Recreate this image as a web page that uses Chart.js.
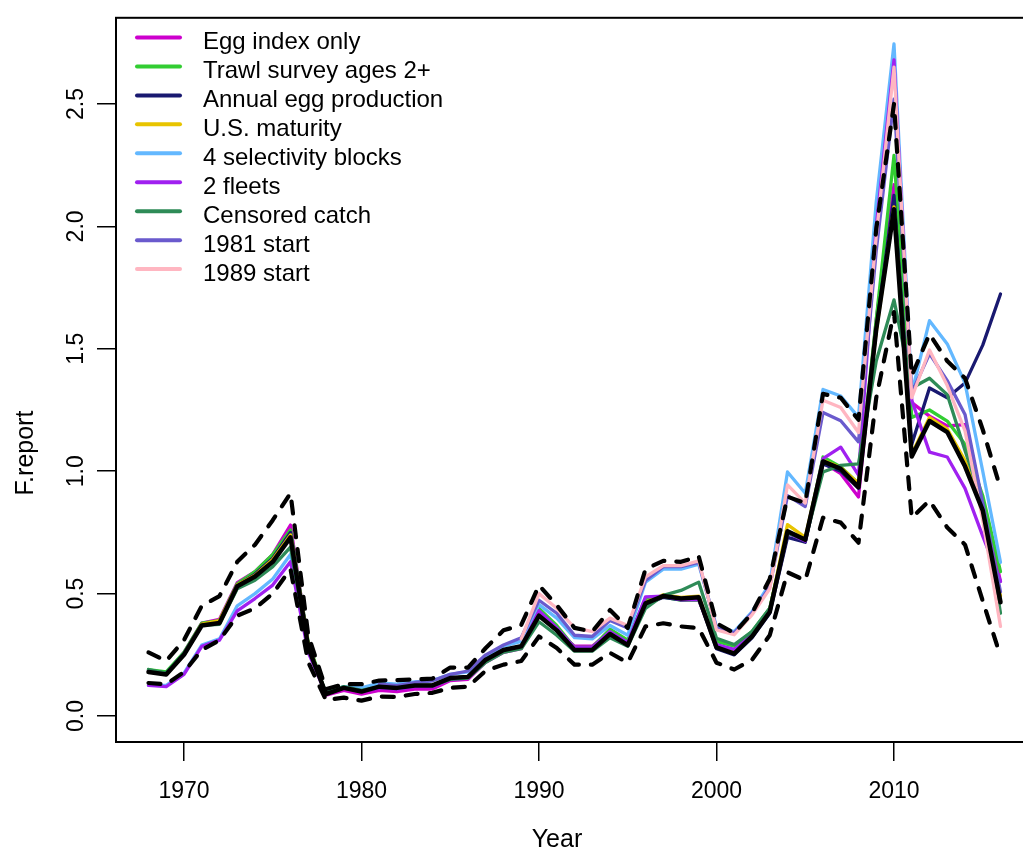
<!DOCTYPE html>
<html>
<head>
<meta charset="utf-8">
<script src="https://cdn.jsdelivr.net/npm/chart.js@4.4.1/dist/chart.umd.min.js"></script>
<style>
  html, body { margin:0; padding:0; background:#fff; overflow:hidden; }
  #clip { width:1023px; height:856px; overflow:hidden; position:relative; }
  #wrap { width:1040px; height:856px; position:absolute; left:0; top:0; }
</style>
</head>
<body>
<div id="clip"><div id="wrap"><canvas id="fChart"></canvas></div></div>
<script>
/* ═══ F.report sensitivity runs ═══ */
var years = [];
for (var yr = 1968; yr <= 2016; yr++) years.push(yr);

var xTicks = [1970, 1980, 1990, 2000, 2010];
var yTicks = [0, 0.5, 1, 1.5, 2, 2.5];
var yTickLabels = ['0.0', '0.5', '1.0', '1.5', '2.0', '2.5'];

var runNames = ['Egg index only', 'Trawl survey ages 2+', 'Annual egg production', 'U.S. maturity',
                '4 selectivity blocks', '2 fleets', 'Censored catch', '1981 start', '1989 start'];
var runColors = ['#CD00CD', '#32CD32', '#191970', '#E8C400', '#63B8FF', '#A020F0', '#2E8B57', '#6A5ACD', '#FFB6C1'];

// base model and its interval
var baseF  = [0.18,0.17,0.25,0.37,0.38,0.53,0.57,0.63,0.73,0.28,0.09,0.115,0.10,0.12,0.115,0.125,0.125,0.155,0.16,0.23,0.27,0.285,0.41,0.35,0.27,0.27,0.335,0.29,0.46,0.49,0.48,0.485,0.28,0.255,0.325,0.425,0.755,0.72,1.04,1.01,0.935,1.58,2.07,1.06,1.205,1.16,1.02,0.84,0.465];
var upperF = [0.26,0.225,0.31,0.45,0.49,0.63,0.70,0.80,0.91,0.33,0.11,0.13,0.13,0.145,0.147,0.15,0.153,0.198,0.198,0.278,0.35,0.372,0.534,0.453,0.36,0.345,0.433,0.36,0.60,0.634,0.63,0.652,0.379,0.339,0.42,0.56,0.896,0.87,1.316,1.30,1.21,1.99,2.50,1.39,1.56,1.45,1.38,1.17,0.93];
var lowerF = [0.135,0.13,0.18,0.27,0.31,0.41,0.44,0.50,0.60,0.22,0.065,0.075,0.063,0.08,0.078,0.09,0.095,0.115,0.12,0.185,0.21,0.225,0.325,0.278,0.21,0.21,0.258,0.218,0.366,0.379,0.366,0.359,0.218,0.19,0.23,0.33,0.587,0.554,0.81,0.79,0.708,1.30,1.65,0.81,0.88,0.77,0.70,0.47,0.245];

// sensitivity runs
var eggF      = [0.185,0.175,0.26,0.38,0.395,0.545,0.59,0.66,0.78,0.29,0.085,0.105,0.09,0.105,0.10,0.11,0.11,0.145,0.15,0.22,0.26,0.275,0.42,0.35,0.285,0.285,0.345,0.30,0.47,0.49,0.475,0.475,0.285,0.26,0.33,0.43,0.75,0.715,1.035,0.99,0.895,1.62,2.17,1.28,1.225,1.185,1.19,0.87,0.55];
var trawlF    = [0.19,0.18,0.26,0.38,0.39,0.54,0.59,0.66,0.76,0.30,0.09,0.115,0.10,0.12,0.115,0.125,0.125,0.155,0.16,0.225,0.27,0.285,0.44,0.37,0.28,0.28,0.355,0.31,0.48,0.486,0.473,0.473,0.305,0.285,0.345,0.44,0.755,0.72,1.058,1.017,0.95,1.62,2.29,1.22,1.25,1.205,1.11,0.90,0.59];
var annualF   = [0.185,0.175,0.255,0.375,0.385,0.535,0.58,0.645,0.75,0.29,0.09,0.115,0.10,0.12,0.115,0.125,0.125,0.155,0.16,0.23,0.27,0.285,0.41,0.35,0.27,0.27,0.335,0.29,0.455,0.485,0.475,0.48,0.275,0.25,0.32,0.42,0.73,0.71,1.03,1.00,0.93,1.58,2.127,1.11,1.34,1.30,1.36,1.515,1.724];
var usMatF    = [0.18,0.17,0.25,0.375,0.39,0.535,0.575,0.64,0.74,0.29,0.09,0.115,0.10,0.12,0.115,0.125,0.125,0.155,0.16,0.23,0.27,0.285,0.415,0.355,0.275,0.275,0.34,0.295,0.465,0.495,0.485,0.49,0.285,0.26,0.33,0.435,0.782,0.73,1.045,1.015,0.95,1.57,2.08,1.07,1.22,1.172,1.044,0.86,0.49];
var sel4F     = [0.125,0.125,0.175,0.29,0.315,0.45,0.50,0.56,0.66,0.27,0.095,0.12,0.115,0.135,0.13,0.14,0.145,0.17,0.18,0.245,0.285,0.305,0.455,0.40,0.32,0.315,0.37,0.33,0.547,0.60,0.60,0.62,0.365,0.345,0.426,0.54,0.997,0.91,1.334,1.307,1.22,2.10,2.745,1.32,1.615,1.52,1.36,1.00,0.628];
var fleets2F  = [0.125,0.12,0.17,0.285,0.31,0.43,0.48,0.535,0.63,0.26,0.09,0.115,0.10,0.115,0.11,0.12,0.12,0.15,0.155,0.225,0.27,0.28,0.43,0.36,0.28,0.28,0.345,0.30,0.487,0.49,0.475,0.475,0.292,0.272,0.332,0.426,0.748,0.715,1.051,1.098,0.984,2.00,2.68,1.29,1.078,1.058,0.93,0.735,0.55];
var censorF   = [0.19,0.175,0.25,0.37,0.375,0.52,0.555,0.61,0.69,0.28,0.095,0.12,0.105,0.12,0.115,0.125,0.125,0.15,0.155,0.22,0.26,0.275,0.385,0.33,0.265,0.265,0.32,0.285,0.44,0.493,0.513,0.547,0.318,0.292,0.345,0.44,0.748,0.72,0.997,1.024,1.03,1.45,1.70,1.34,1.38,1.313,1.085,0.87,0.42];
var start81F  = [null,null,null,null,null,null,null,null,null,null,null,null,null,0.13,0.124,0.137,0.144,0.17,0.184,0.25,0.29,0.32,0.473,0.42,0.33,0.325,0.39,0.36,0.554,0.61,0.61,0.628,0.358,0.34,0.42,0.527,0.90,0.856,1.24,1.206,1.12,1.90,2.52,1.32,1.48,1.37,1.232,0.87,0.507];
var start89F  = [null,null,null,null,null,null,null,null,null,null,null,null,null,null,null,null,null,null,null,null,null,0.315,0.50,0.44,0.36,0.345,0.40,0.37,0.568,0.614,0.614,0.634,0.352,0.332,0.413,0.52,0.944,0.87,1.29,1.26,1.158,1.96,2.65,1.30,1.495,1.35,1.165,0.80,0.366];

var runValues = [eggF, trawlF, annualF, usMatF, sel4F, fleets2F, censorF, start81F, start89F];

function pts(vals) {
  return years.map(function(y, i) { return {x: y, y: vals[i]}; });
}

var datasets = [];
// dashed interval and base line on top of the runs
datasets.push({label:'upper', data:pts(upperF), borderColor:'#000', borderWidth:4.2, borderDash:[12,12], order:0});
datasets.push({label:'lower', data:pts(lowerF), borderColor:'#000', borderWidth:4.2, borderDash:[12,12], order:0});
datasets.push({label:'base',  data:pts(baseF),  borderColor:'#000', borderWidth:4.5, order:1});
for (var r = 0; r < runNames.length; r++) {
  datasets.push({label:runNames[r], data:pts(runValues[r]), borderColor:runColors[r], borderWidth:3.3,
                 order: 2 + (runNames.length - 1 - r)});
}

// R-style full frame
var frame = {
  id:'frame',
  afterDatasetsDraw:function(c){
    var a = c.chartArea, ctx = c.ctx;
    ctx.save(); ctx.strokeStyle = '#000'; ctx.lineWidth = 2;
    ctx.strokeRect(a.left, a.top, a.right - a.left, a.bottom - a.top);
    ctx.restore();
  }
};

// legend without box, top-left inside the plot
var legendR = {
  id:'legendR',
  afterDraw:function(c){
    var ctx = c.ctx;
    ctx.save();
    ctx.font = '24px "Liberation Sans", Arial, sans-serif';
    ctx.textBaseline = 'alphabetic';
    ctx.fillStyle = '#000';
    ctx.lineCap = 'round';
    for (var i = 0; i < runNames.length; i++) {
      var y = 37.5 + i * 28.95;
      ctx.strokeStyle = runColors[i]; ctx.lineWidth = 4;
      ctx.beginPath(); ctx.moveTo(137, y); ctx.lineTo(180, y); ctx.stroke();
      ctx.fillText(runNames[i], 203, y + 11.5);
    }
    ctx.restore();
  }
};

// axis titles
var titles = {
  id:'titles',
  afterDraw:function(c){
    var ctx = c.ctx;
    ctx.save();
    ctx.font = '25px "Liberation Sans", Arial, sans-serif';
    ctx.fillStyle = '#000';
    ctx.textAlign = 'center'; ctx.textBaseline = 'alphabetic';
    ctx.fillText('Year', 557, 847);
    ctx.translate(33, 453); ctx.rotate(-Math.PI / 2);
    ctx.fillText('F.report', 0, 0);
    ctx.restore();
  }
};

new Chart(document.getElementById('fChart'), {
  type:'line',
  data:{ datasets:datasets },
  plugins:[frame, legendR, titles],
  options:{
    responsive:true, maintainAspectRatio:false, animation:false,
    layout:{ padding:{ left:0, top:8.5, right:4, bottom:0 } },
    elements:{
      line:{ tension:0, borderCapStyle:'round', borderJoinStyle:'round', fill:false },
      point:{ radius:0, hoverRadius:0 }
    },
    plugins:{ legend:{display:false}, tooltip:{enabled:false} },
    scales:{
      x:{
        type:'linear', min:1966.17, max:2018,
        afterFit:function(s){ s.height = 114; },
        afterBuildTicks:function(s){ s.ticks = xTicks.map(function(v){ return {value:v}; }); },
        border:{display:false},
        grid:{ drawOnChartArea:false, drawTicks:true, tickLength:19, color:'#000', lineWidth:1.5 },
        ticks:{ color:'#000', padding:17, maxRotation:0, autoSkip:false,
                font:{ size:23, family:'"Liberation Sans", Arial, sans-serif' },
                callback:function(v){ return String(v); } }
      },
      y:{
        type:'linear', min:-0.106, max:2.852,
        afterFit:function(s){ s.width = 116; },
        afterBuildTicks:function(s){ s.ticks = yTicks.map(function(v){ return {value:v}; }); },
        border:{display:false},
        grid:{ drawOnChartArea:false, drawTicks:true, tickLength:19, color:'#000', lineWidth:1.5 },
        ticks:{ color:'#000', padding:4, minRotation:90, maxRotation:90, crossAlign:'center', autoSkip:false,
                font:{ size:23, family:'"Liberation Sans", Arial, sans-serif' },
                callback:function(v){ var k = yTicks.indexOf(v); return k >= 0 ? yTickLabels[k] : ''; } }
      }
    }
  }
});
</script>
</body>
</html>
